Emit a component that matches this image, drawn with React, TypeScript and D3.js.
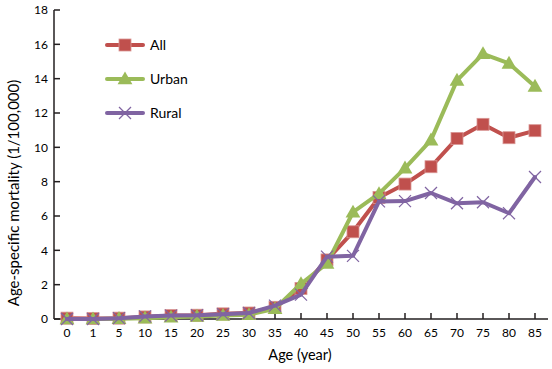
import React from "react";
import * as d3 from "d3";

const ages = ["0","1","5","10","15","20","25","30","35","40","45","50","55","60","65","70","75","80","85"];
const allValues = [0.05,0.03,0.05,0.12,0.2,0.22,0.3,0.35,0.68,1.78,3.44,5.08,7.08,7.86,8.87,10.52,11.34,10.56,10.97];
const urbanValues = [0.0,0.0,0.02,0.05,0.1,0.15,0.2,0.25,0.6,2.05,3.24,6.22,7.3,8.79,10.42,13.9,15.45,14.89,13.55];
const ruralValues = [0.0,0.0,0.05,0.15,0.2,0.22,0.28,0.35,0.78,1.42,3.63,3.68,6.85,6.87,7.34,6.74,6.8,6.16,8.27];
const yTicks = [0,2,4,6,8,10,12,14,16,18];

const W = 552, H = 369;
const M = { left: 54, right: 4, top: 10, bottom: 50 };
const FONT = "Lato, 'Open Sans', sans-serif";

const series = [
  { name: "All", values: allValues, color: "#C0504D", marker: "square" },
  { name: "Urban", values: urbanValues, color: "#9BBB59", marker: "triangle" },
  { name: "Rural", values: ruralValues, color: "#8064A2", marker: "cross" },
];

function Marker({ type, x, y, color }: { type: string; x: number; y: number; color: string }) {
  if (type === "square") {
    const s = 12;
    return <rect x={x - s / 2} y={y - s / 2} width={s} height={s} fill={color} stroke="#D99694" strokeWidth={0.8} />;
  }
  if (type === "triangle") {
    const p = d3.symbol().type(d3.symbolTriangle).size(95)();
    return <path d={p!} transform={`translate(${x},${y + 1})`} fill={color} />;
  }
  const r = 6;
  return (
    <g stroke={color} strokeWidth={1.2}>
      <line x1={x - r} y1={y - r} x2={x + r} y2={y + r} />
      <line x1={x - r} y1={y + r} x2={x + r} y2={y - r} />
    </g>
  );
}

export default function App() {
  const x = d3.scaleBand<string>().domain(ages).range([M.left, W - M.right]).padding(0);
  const y = d3.scaleLinear().domain([0, 18]).range([H - M.bottom, M.top]);
  const cx = (a: string) => (x(a) as number) + x.bandwidth() / 2;
  const line = d3.line<number>().x((_, i) => cx(ages[i])).y((d) => y(d));
  const axisColor = "#231F20";
  const y0 = y(0);

  return (
    <svg width={W} height={H} style={{ position: "absolute", left: 0, top: 0, background: "#fff" }}>
      {/* y axis */}
      <line x1={M.left} x2={M.left} y1={y(18)} y2={y0} stroke={axisColor} strokeWidth={1.5} />
      {yTicks.map((t) => (
        <g key={t}>
          <line x1={M.left} x2={M.left + 6} y1={y(t)} y2={y(t)} stroke={axisColor} strokeWidth={1.5} />
          <text x={M.left - 6} y={y(t)} dy="0.35em" textAnchor="end" fontFamily={FONT} fontSize={12} fill="#000">{t}</text>
        </g>
      ))}
      {/* x axis */}
      <line x1={M.left} x2={W - M.right} y1={y0} y2={y0} stroke={axisColor} strokeWidth={1.5} />
      {ages.map((a) => (
        <g key={a}>
          <line x1={cx(a)} x2={cx(a)} y1={y0} y2={y0 - 6} stroke={axisColor} strokeWidth={1.5} />
          <text x={cx(a)} y={y0 + 14} dy="0.35em" textAnchor="middle" fontFamily={FONT} fontSize={12} fill="#000">{a}</text>
        </g>
      ))}
      <text x={300} y={355} dy="0.35em" textAnchor="middle" fontFamily={FONT} fontSize={14.5} fill="#000">Age (year)</text>
      <text transform={`translate(14,193) rotate(-90)`} dy="0.35em" textAnchor="middle" fontFamily={FONT} fontSize={15} fill="#000">Age-specific mortality (1/100,000)</text>

      {/* series */}
      {series.map((s) => (
        <g key={s.name}>
          <path d={line(s.values)!} fill="none" stroke={s.color} strokeWidth={4} strokeLinejoin="round" strokeLinecap="round" />
          {s.values.map((v, i) => (
            <Marker key={i} type={s.marker} x={cx(ages[i])} y={y(v)} color={s.color} />
          ))}
        </g>
      ))}

      {/* legend */}
      {series.map((s, i) => {
        const ly = 45 + i * 34;
        return (
          <g key={s.name}>
            <line x1={107} x2={143} y1={ly} y2={ly} stroke={s.color} strokeWidth={4} strokeLinecap="round" />
            <Marker type={s.marker} x={125} y={ly} color={s.color} />
            <text x={150} y={ly} dy="0.35em" fontFamily={FONT} fontSize={14} fill="#000">{s.name}</text>
          </g>
        );
      })}
    </svg>
  );
}
